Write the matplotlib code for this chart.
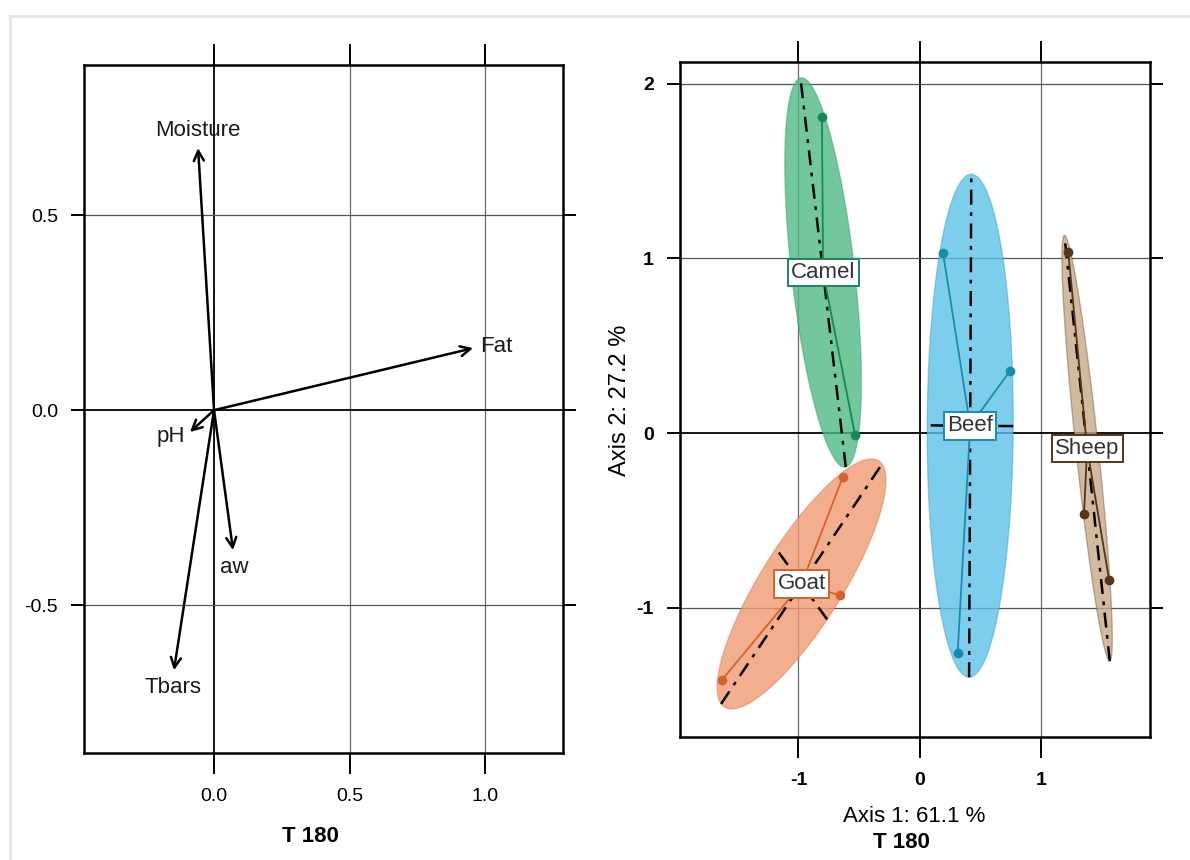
import numpy as np
import matplotlib.pyplot as plt
from matplotlib import font_manager
from matplotlib.lines import Line2D

# narrow sans looks closest to the squeezed Helvetica of the original
installed = {f.name for f in font_manager.fontManager.ttflist}
narrow = 'Liberation Sans Narrow' if 'Liberation Sans Narrow' in installed else 'Liberation Sans'
plt.rcParams['font.family'] = narrow
plt.rcParams['axes.unicode_minus'] = False

# ---- left panel: variable loadings (arrows) ----
var_names = ['Moisture', 'Fat', 'pH', 'aw', 'Tbars']
load_x = [-0.059, 0.956, -0.089, 0.070, -0.148]
load_y = [0.672, 0.159, -0.056, -0.359, -0.667]
left_xticks = [0.0, 0.5, 1.0]
left_xlabels = ['0.0', '0.5', '1.0']
left_yticks = [-0.5, 0.0, 0.5]
left_ylabels = ['-0.5', '0.0', '0.5']

# ---- right panel: scores by species ----
groups = ['Camel', 'Beef', 'Goat', 'Sheep']
camel_x = [-0.807, -0.535, -1.050]
camel_y = [1.810, -0.010, 0.960]
beef_x = [0.190, 0.740, 0.310]
beef_y = [1.030, 0.355, -1.260]
goat_x = [-0.634, -0.660, -1.630]
goat_y = [-0.250, -0.930, -1.415]
sheep_x = [1.220, 1.350, 1.556]
sheep_y = [1.040, -0.465, -0.840]
right_xticks = [-1, 0, 1]
right_yticks = [-1, 0, 1, 2]
xlab_right = 'Axis 1: 61.1 %'
ylab_right = 'Axis 2: 27.2 %'
subtitle = 'T 180'

group_x = [camel_x, beef_x, goat_x, sheep_x]
group_y = [camel_y, beef_y, goat_y, sheep_y]
pt_cols = ['#17885a', '#1a8cab', '#d2632a', '#5a3417']
fill_cols = ['#4fbb83', '#5cc2e8', '#f19a72', '#c6a987']

fig = plt.figure(figsize=(11.9, 8.6), dpi=100)
# faint frame of the original screenshot
fig.add_artist(Line2D([10/1190, 1], [1-16/860, 1-16/860], color='#e4e4e4', lw=2))
fig.add_artist(Line2D([10/1190, 10/1190], [0, 1-16/860], color='#e4e4e4', lw=2))

ax1 = fig.add_axes([84/1190, 1-753/860, 479/1190, 688/860])
ax2 = fig.add_axes([680/1190, 1-737/860, 470/1190, 675/860])


def style_axes(ax, xt, xl, yt, yl, bold):
    for v in xt:
        ax.axvline(v, color='black' if v == 0 else '#6a6a6a', lw=1.3 if v == 0 else 0.9, zorder=0)
    for v in yt:
        ax.axhline(v, color='black' if v == 0 else '#555555', lw=1.3 if v == 0 else 0.9, zorder=0)
    ax.set_xticks(xt)
    ax.set_xticklabels(xl, fontweight='bold' if bold else 'normal')
    ax.set_yticks(yt)
    ax.set_yticklabels(yl, fontweight='bold' if bold else 'normal')
    ax.tick_params(axis='x', top=True, bottom=True, direction='out', length=15, width=1.4,
                   pad=10, labelsize=14)
    ax.tick_params(axis='y', left=True, right=True, direction='out', length=9.7, width=1.4,
                   pad=9, labelsize=14)
    for s in ax.spines.values():
        s.set_linewidth(1.8)


# left panel
style_axes(ax1, left_xticks, left_xlabels, left_yticks, left_ylabels, False)
ax1.set_xlim(-0.48, 1.288)
ax1.set_ylim(-0.879, 0.885)
for name, x, y in zip(var_names, load_x, load_y):
    ax1.annotate('', xy=(x, y), xytext=(0, 0),
                 arrowprops=dict(arrowstyle='->', lw=1.8, color='black',
                                 mutation_scale=18, shrinkA=0, shrinkB=0))
    dx, dy = x * 271, y * 390
    d = np.hypot(dx, dy)
    off = (5 * dx / d, 5 * dy / d)
    if abs(dx) > abs(dy):
        ha, va = ('left' if dx > 0 else 'right'), 'center'
    else:
        ha, va = 'center', ('bottom' if dy > 0 else 'top')
    ax1.annotate(name, xy=(x, y), xytext=off, textcoords='offset points',
                 ha=ha, va=va, fontsize=16, color='#1a1a1a')

# right panel
style_axes(ax2, right_xticks, [str(v) for v in right_xticks],
           right_yticks, [str(v) for v in right_yticks], True)
ax2.set_xlim(-1.975, 1.893)
ax2.set_ylim(-1.742, 2.126)

t = np.linspace(0, 2 * np.pi, 200)
for name, gx, gy, pc, fc in zip(groups, group_x, group_y, pt_cols, fill_cols):
    px, py = np.array(gx), np.array(gy)
    cx, cy = px.mean(), py.mean()
    cov = np.cov(np.vstack([px, py]), bias=True)
    vals, vecs = np.linalg.eigh(cov)
    a, b = 1.5 * np.sqrt(vals[1]), 1.5 * np.sqrt(max(vals[0], 0))
    v1, v2 = vecs[:, 1], vecs[:, 0]
    ex = cx + a * np.cos(t) * v1[0] + b * np.sin(t) * v2[0]
    ey = cy + a * np.cos(t) * v1[1] + b * np.sin(t) * v2[1]
    ax2.fill(ex, ey, color=fc, alpha=0.8, lw=0, zorder=1)
    ax2.plot(ex, ey, color=pc, alpha=0.35, lw=1, zorder=1)
    # ellipse axes
    for vec, r in ((v1, a), (v2, b)):
        ax2.plot([cx - r * vec[0], cx + r * vec[0]], [cy - r * vec[1], cy + r * vec[1]],
                 color='black', lw=1.8, ls=(0, (6, 3, 1.5, 3)), zorder=2)
    # star lines to centroid
    for x, y in zip(px, py):
        ax2.plot([cx, x], [cy, y], color=pc, lw=1.3, zorder=3)
    ax2.plot(px, py, 'o', color=pc, ms=6, zorder=4)
    ax2.text(cx, cy, name, ha='center', va='center', fontsize=16, color='#333333', zorder=5,
             bbox=dict(boxstyle='square,pad=0.15', fc='white', ec=pc, lw=1.4))

fig.text(310/1190, 1-837/860, subtitle, ha='center', va='center', fontsize=16, fontweight='bold')
fig.text(914/1190, 1-816/860, xlab_right, ha='center', va='center', fontsize=16)
fig.text(901/1190, 1-842/860, subtitle, ha='center', va='center', fontsize=16, fontweight='bold')
fig.text(620/1190, 1-400/860, ylab_right, ha='center', va='center', fontsize=17,
         rotation=90, family='Liberation Sans')

plt.savefig('out.png', dpi=100)
plt.close()
